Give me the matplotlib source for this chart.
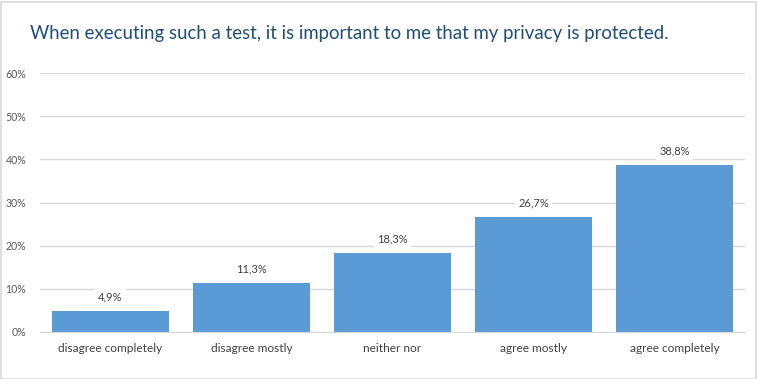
import matplotlib
matplotlib.use("Agg")
import matplotlib.pyplot as plt
from matplotlib.patches import Rectangle

categories = ["disagree completely", "disagree mostly", "neither nor", "agree mostly", "agree completely"]
values = [4.9, 11.3, 18.3, 26.7, 38.8]
value_labels = ["4,9%", "11,3%", "18,3%", "26,7%", "38,8%"]
yticks = [0, 10, 20, 30, 40, 50, 60]
ytick_labels = ["0%", "10%", "20%", "30%", "40%", "50%", "60%"]

W, H = 757, 379
fig = plt.figure(figsize=(W / 100, H / 100), dpi=100)
fig.patch.set_facecolor("white")
fig.add_artist(Rectangle((0.5 / W, 0.5 / H), 1 - 2 / W, 1 - 2 / H, transform=fig.transFigure,
                         fill=False, edgecolor="#D9D9D9", linewidth=1.2))

ax = fig.add_axes([40 / W, 1 - 332 / H, 705 / W, (332 - 73) / H])
x = list(range(len(categories)))
ax.bar(x, values, width=0.83, color="#5B9BD5", zorder=2)
ax.set_xlim(-0.5, len(categories) - 0.5)
ax.set_ylim(0, 60)
ax.set_yticks(yticks)
ax.set_yticklabels(ytick_labels, fontsize=7.6, color="#595959", family="Lato")
ax.set_xticks(x)
ax.set_xticklabels(categories, fontsize=8.6, color="#404040", family="Lato")
ax.tick_params(axis="both", length=0)
ax.tick_params(axis="y", pad=10)
ax.tick_params(axis="x", pad=8)
ax.grid(axis="y", color="#D9D9D9", linewidth=1, zorder=0)
ax.set_axisbelow(True)
for s in ["top", "right", "left"]:
    ax.spines[s].set_visible(False)
ax.spines["bottom"].set_color("#D9D9D9")

for xi, v, lab in zip(x, values, value_labels):
    ax.annotate(lab, (xi, v), xytext=(0, 6), textcoords="offset points", ha="center", va="bottom",
                fontsize=8, color="#404040", family="Lato",
                bbox=dict(boxstyle="square,pad=0.3", fc="white", ec="none"), zorder=3)

fig.text(30 / W, 1 - 33 / H, "When executing such a test, it is important to me that my privacy is protected.",
         fontsize=13.4, color="#1F4E79", family="Lato", va="center", ha="left")

fig.savefig("out.png", dpi=100)
